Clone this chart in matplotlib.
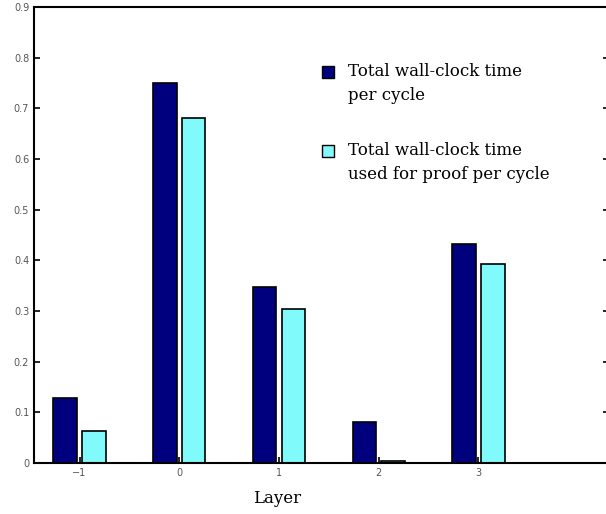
import matplotlib
matplotlib.use("Agg")
import matplotlib.pyplot as plt
from matplotlib.patches import Rectangle
import numpy as np

# data
layers = [-1, 0, 1, 2, 3]
wall_time = [0.128, 0.750, 0.347, 0.081, 0.433]
proof_time = [0.063, 0.680, 0.304, 0.004, 0.392]
labels = ["Total wall-clock time\nper cycle",
          "Total wall-clock time\nused for proof per cycle"]
colors = ["#00007f", "#80fafa"]
yticks = [0, 0.1, 0.2, 0.3, 0.4, 0.5, 0.6, 0.7, 0.8, 0.9]

fig = plt.figure(figsize=(6.06, 5.14), dpi=100)
ax = fig.add_axes([34 / 606, 51 / 514, 575 / 606, 456 / 514])

x = np.array(layers)
w = 0.235
off = 0.145
ax.bar(x - off, wall_time, width=w, color=colors[0], edgecolor="black",
       linewidth=1.2)
ax.bar(x + off, proof_time, width=w, color=colors[1], edgecolor="black",
       linewidth=1.2)

ax.set_xlim(-1.457, 4.31)
ax.set_ylim(0, 0.9)
ax.set_xticks(layers)
ax.set_xticklabels([str(v).replace("-", "\u2212") for v in layers])
ax.set_yticks(yticks)
ax.set_yticklabels(["0"] + [f"{v:.1f}" for v in yticks[1:]])
ax.tick_params(direction="in", length=4, width=1.2, labelsize=7,
               labelcolor="#555555", top=False, right=True)
for s in ax.spines.values():
    s.set_linewidth(1.5)

ax.set_xlabel("Layer", family="DejaVu Serif", fontsize=12)
ax.xaxis.set_label_coords(243 / 575, -27 / 456)

# 凡例は手で描く（四角は1行目に揃える）
leg_y = [72, 151]
for c, lab, yy in zip(colors, labels, leg_y):
    fig.patches.append(Rectangle((322 / 606, 1 - (yy + 6) / 514), 12 / 606, 12 / 514,
                                 transform=fig.transFigure, facecolor=c,
                                 edgecolor="black", linewidth=1.0))
    fig.text(348 / 606, 1 - (yy - 9) / 514, lab, family="DejaVu Serif",
             fontsize=12, va="top", ha="left", linespacing=1.55)

fig.savefig("out.png", dpi=100)
